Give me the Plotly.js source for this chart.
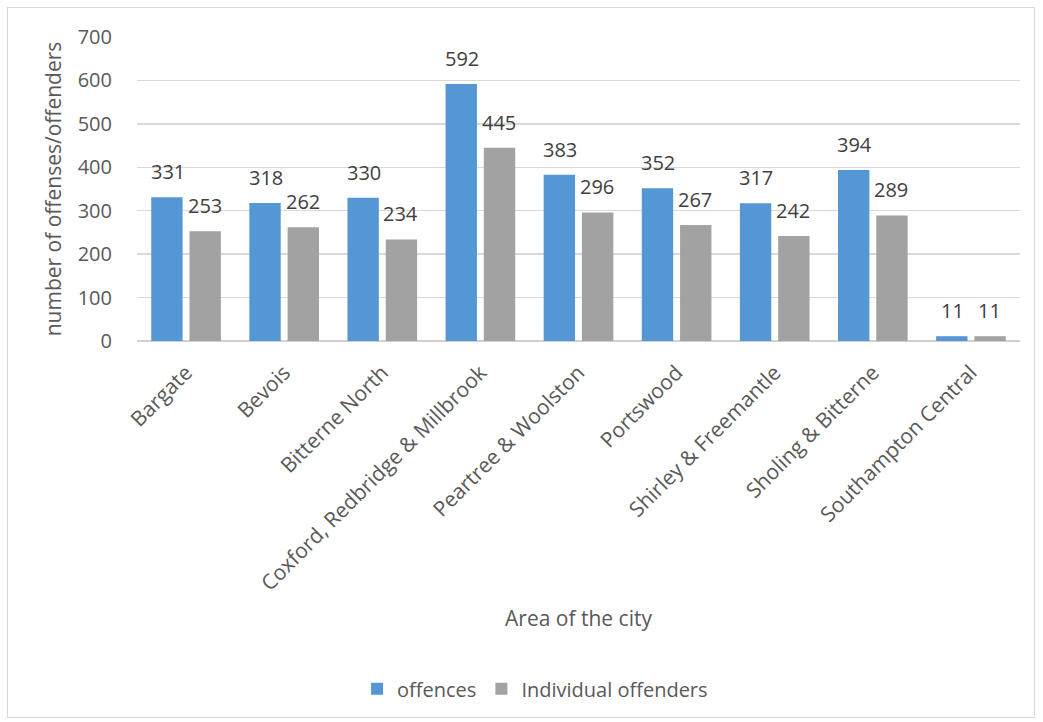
<!DOCTYPE html>
<html>
<head>
<meta charset="utf-8">
<script src="https://cdn.plot.ly/plotly-3.0.1.min.js"></script>
<style>
  html, body { margin: 0; padding: 0; background: #fff; }
  #frame { position: absolute; left: 7px; top: 7px; width: 1026px; height: 709px; border: 1px solid #d9d9d9; }
  #chart { position: absolute; left: 0; top: 0; width: 1043px; height: 722px; }
</style>
</head>
<body>
<div id="frame"></div>
<div id="chart"></div>
<script>
const areas = ["Bargate", "Bevois", "Bitterne North", "Coxford, Redbridge & Millbrook", "Peartree & Woolston", "Portswood", "Shirley & Freemantle", "Sholing & Bitterne", "Southampton Central"];
const offences = [331, 318, 330, 592, 383, 352, 317, 394, 11];
const offenders = [253, 262, 234, 445, 296, 267, 242, 289, 11];
const seriesNames = ["offences", "Individual offenders"];
const yTicks = [0, 100, 200, 300, 400, 500, 600, 700];

const font = "'Open Sans', 'DejaVu Sans', sans-serif";
const textColor = "#595959";

const traces = [
  { type: "bar", name: seriesNames[0], x: areas, y: offences, marker: { color: "#5597d5" }, hoverinfo: "x+y" },
  { type: "bar", name: seriesNames[1], x: areas, y: offenders, marker: { color: "#a2a2a2" }, hoverinfo: "x+y" }
];

// data labels as annotations (offset like the reference)
const annotations = [];
areas.forEach((a, i) => {
  annotations.push({ x: a, y: offences[i], xref: "x", yref: "y", text: String(offences[i]), showarrow: false,
    xshift: -18.5, yshift: 10, yanchor: "bottom", font: { family: font, size: 20, color: "#404040" } });
  annotations.push({ x: a, y: offenders[i], xref: "x", yref: "y", text: String(offenders[i]), showarrow: false,
    xshift: 18.5, yshift: 10, yanchor: "bottom", font: { family: font, size: 20, color: "#404040" } });
});

const layout = {
  width: 1043, height: 722,
  margin: { l: 137, r: 23, t: 37, b: 381 },
  paper_bgcolor: "rgba(0,0,0,0)",
  plot_bgcolor: "rgba(0,0,0,0)",
  barmode: "group",
  bargap: 0.22,
  bargroupgap: 0.18,
  showlegend: true,
  legend: { orientation: "h", xref: "container", yref: "container", x: 0.513, y: 0.046, xanchor: "center", yanchor: "middle",
    font: { family: font, size: 20, color: textColor }, itemwidth: 30, tracegroupgap: 0 },
  xaxis: {
    type: "category",
    tickangle: -45,
    tickfont: { family: font, size: 21, color: textColor },
    ticks: "outside", ticklen: 10, tickcolor: "rgba(0,0,0,0)",
    showline: false, showgrid: false, zeroline: false,
    automargin: false,
    title: { text: "Area of the city", font: { family: font, size: 21, color: textColor }, standoff: 16 }
  },
  yaxis: {
    range: [0, 700],
    tickvals: yTicks,
    tickfont: { family: font, size: 20, color: textColor },
    ticks: "outside", ticklen: 20, tickcolor: "rgba(0,0,0,0)",
    showgrid: true, gridcolor: "#d9d9d9", gridwidth: 1.5,
    zeroline: true, zerolinecolor: "#d0d0d0", zerolinewidth: 2,
    showline: false,
    automargin: false,
    title: { text: "number of offenses/offenders", font: { family: font, size: 21, color: textColor }, standoff: 10 }
  },
  annotations: annotations
};

Plotly.newPlot("chart", traces, layout, { displayModeBar: false, staticPlot: true });
</script>
</body>
</html>
